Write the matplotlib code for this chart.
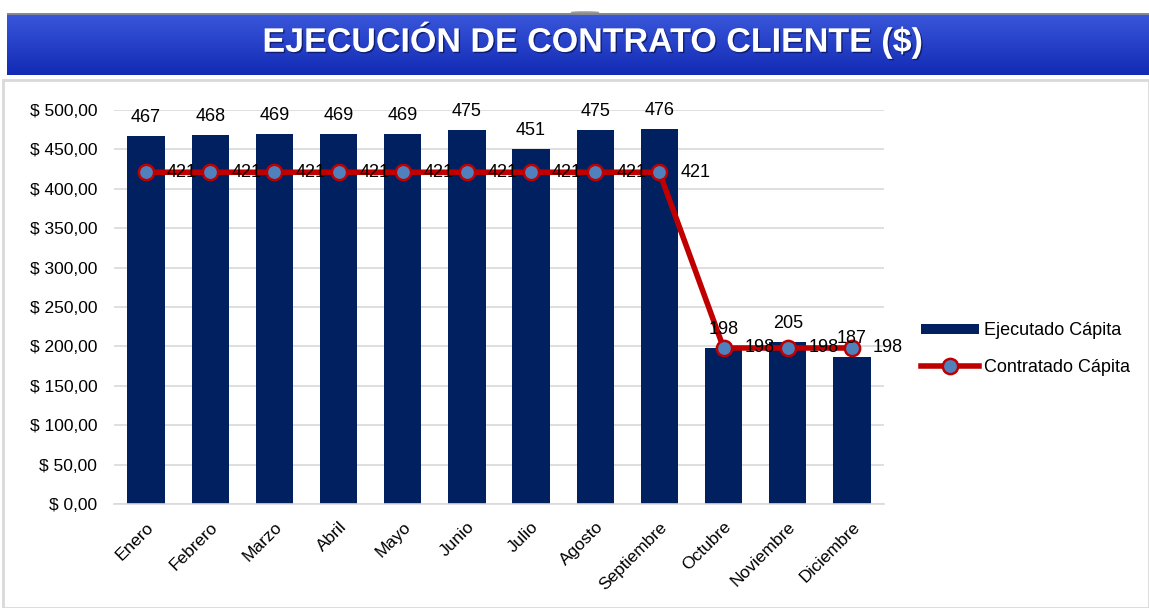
import numpy as np
import matplotlib.pyplot as plt
from matplotlib.patches import Rectangle, Circle
import matplotlib.patheffects as pe

plt.rcParams['font.family'] = ['Liberation Sans', 'DejaVu Sans']

# datos
meses = ['Enero', 'Febrero', 'Marzo', 'Abril', 'Mayo', 'Junio', 'Julio',
         'Agosto', 'Septiembre', 'Octubre', 'Noviembre', 'Diciembre']
ejecutado = [467, 468, 469, 469, 469, 475, 451, 475, 476, 198, 205, 187]
contratado = [421, 421, 421, 421, 421, 421, 421, 421, 421, 198, 198, 198]
yticks = [0, 50, 100, 150, 200, 250, 300, 350, 400, 450, 500]
ytick_labels = ['$ ' + f'{v:.2f}'.replace('.', ',') for v in yticks]

W, H = 1149, 608
fig = plt.figure(figsize=(W / 100, H / 100), dpi=100)

# panel blanco con borde gris
fig.patches.append(Rectangle((3 / W, 0), 1 - 3 / W, (H - 80) / H, transform=fig.transFigure,
                             facecolor='white', edgecolor='#D9D9D9', linewidth=2, zorder=-5))

# cabecera azul con degradado
hdr = fig.add_axes([7 / W, 1 - 75 / H, 1 - 7 / W, 62 / H])
grad = np.linspace(0, 1, 100).reshape(-1, 1)
top = np.array([0x3a, 0x58, 0xdc]) / 255
bot = np.array([0x12, 0x2a, 0xb4]) / 255
img = top + (bot - top) * grad[:, :, None]
hdr.imshow(img, aspect='auto', extent=[0, 1, 0, 1])
hdr.axhline(1, color='#8a8a8a', linewidth=2)
hdr.set_xlim(0, 1)
hdr.set_ylim(0, 1)
hdr.axis('off')
hdr.add_patch(Circle(((585 - 7) / (W - 7), 1.0), 0.012, transform=hdr.transAxes,
                     facecolor='white', edgecolor='#9a9a9a', linewidth=1.5, clip_on=False))
hdr.text((592 - 7) / (W - 7), 0.56, 'EJECUCIÓN DE CONTRATO CLIENTE ($)', ha='center', va='center',
         color='white', fontsize=24.5, fontweight='bold',
         path_effects=[pe.withSimplePatchShadow(offset=(1, -1), shadow_rgbFace='#0a1560', alpha=0.8)])

# grafico
ax = fig.add_axes([114 / W, 1 - 504 / H, (884 - 114) / W, (504 - 110) / H])
x = np.arange(len(meses))
barras = ax.bar(x, ejecutado, width=0.58, color='#002060', label='Ejecutado Cápita', zorder=2)
linea, = ax.plot(x, contratado, color='#C00000', linewidth=4, marker='o', markersize=11,
                 markerfacecolor='#4F81BD', markeredgecolor='#C00000', markeredgewidth=1.8,
                 label='Contratado Cápita', zorder=4)

for xi, v in zip(x, ejecutado):
    ax.annotate(str(v), (xi, v), xytext=(0, 10), textcoords='offset pixels',
                ha='center', va='bottom', fontsize=13, zorder=5)
for xi, v in zip(x, contratado):
    ax.annotate(str(v), (xi, v), xytext=(21, 0), textcoords='offset pixels',
                ha='left', va='center', fontsize=13, zorder=5)

ax.set_xlim(-0.5, len(meses) - 0.5)
ax.set_ylim(0, 500)
ax.set_yticks(yticks)
ax.set_yticklabels(ytick_labels, fontsize=12.5)
ax.set_xticks(x)
ax.set_xticklabels(meses, rotation=45, ha='right', rotation_mode='anchor', fontsize=12.5)
ax.tick_params(length=0)
ax.tick_params(axis='y', pad=12)
ax.tick_params(axis='x', pad=11)
ax.grid(axis='y', color='#D9D9D9', linewidth=1.2, zorder=0)
ax.set_axisbelow(True)
ax.patch.set_alpha(0)
for s in ['top', 'right', 'left']:
    ax.spines[s].set_visible(False)
ax.spines['bottom'].set_color('#D9D9D9')
ax.spines['bottom'].set_linewidth(1.2)

fig.legend([barras, linea], ['Ejecutado Cápita', 'Contratado Cápita'],
           loc='center left', bbox_to_anchor=(905 / W, 1 - 349 / H), frameon=False,
           fontsize=13, handlelength=3.2, handleheight=0.5, labelspacing=1.1, handletextpad=0.3)

fig.savefig('out.png', dpi=100)
